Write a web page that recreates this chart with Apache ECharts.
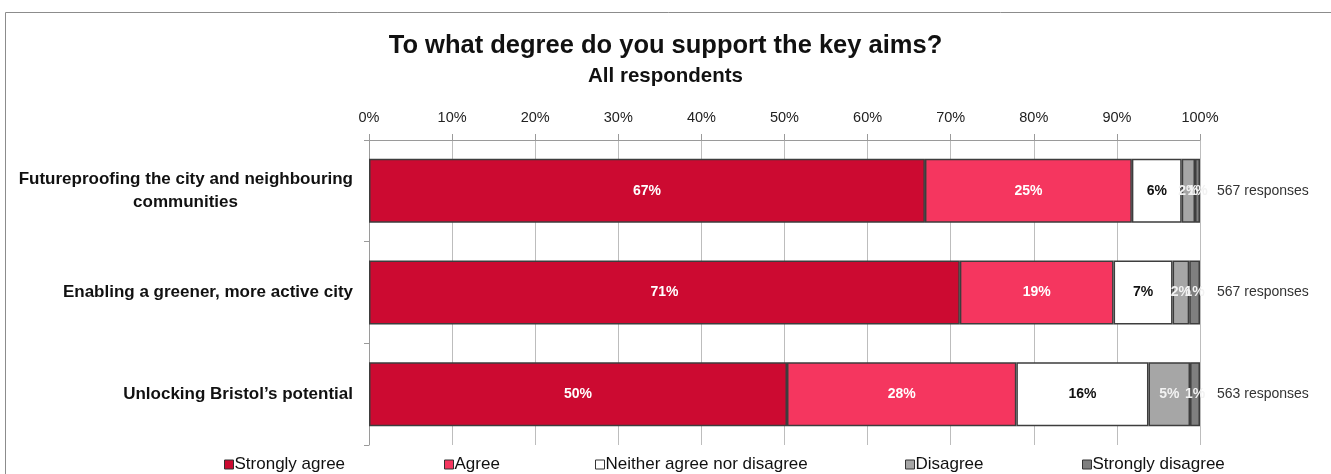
<!DOCTYPE html>
<html>
<head>
<meta charset="utf-8">
<script src="https://cdn.jsdelivr.net/npm/echarts@6/dist/echarts.min.js"></script>
<style>
  html, body { margin: 0; padding: 0; background: #fff; }
  #chart { width: 1331px; height: 474px; }
</style>
</head>
<body>
<div id="chart"></div>
<script>
// Survey statements (top to bottom)
const categories = [
  'Futureproofing the city and neighbouring\ncommunities',
  'Enabling a greener, more active city',
  'Unlocking Bristol\u2019s potential'
];
const responseCounts = ['567 responses', '567 responses', '563 responses'];

// Share of respondents per answer, percent of each row
const stronglyAgree = [66.9, 71.1, 50.3];
const agree         = [24.9, 18.5, 27.6];
const neither       = [6.0, 7.1, 15.9];
const disagree      = [1.6, 2.0, 5.0];
const stronglyDis   = [0.6, 1.3, 1.2];

const seriesNames = ['Strongly agree', 'Agree', 'Neither agree nor disagree', 'Disagree', 'Strongly disagree'];
const xTicks = { min: 0, max: 100, step: 10 };

const FONT = '"Liberation Sans", Arial, sans-serif';
const seriesValues = [stronglyAgree, agree, neither, disagree, stronglyDis];
const fills = ['#cc0a31', '#f5365f', '#ffffff', '#a6a6a6', '#7f7f7f'];
const labelColors = ['#ffffff', '#ffffff', '#111111', '#f2f2f2', '#f2f2f2'];

const CAT_SIZE = 17;
// width of the first line of the wrapped label, so the second line can be centred under it
const measure = document.createElement('canvas').getContext('2d');
measure.font = 'bold ' + CAT_SIZE + 'px ' + FONT;
const firstLineWidth = Math.ceil(measure.measureText(categories[0].split('\n')[0]).width);

const chart = echarts.init(document.getElementById('chart'), null, { renderer: 'canvas' });

const legendLeft = [224, 444, 595, 905, 1082];

chart.setOption({
  backgroundColor: '#ffffff',
  animation: false,
  title: {
    text: 'To what degree do you support the key aims?',
    subtext: 'All respondents',
    left: 'center',
    top: 28,
    itemGap: 7,
    textStyle: { fontFamily: FONT, fontSize: 25.5, fontWeight: 'bold', color: '#111' },
    subtextStyle: { fontFamily: FONT, fontSize: 20.5, fontWeight: 'bold', color: '#111' }
  },
  graphic: [{
    type: 'rect',
    shape: { x: 5.5, y: 12.5, width: 1400, height: 500 },
    style: { fill: null, stroke: '#8c8c8c', lineWidth: 1 },
    silent: true,
    z: -1
  }],
  legend: seriesNames.map((name, i) => ({
    data: [name],
    left: legendLeft[i],
    top: 456,
    itemWidth: 9,
    itemHeight: 9,
    itemGap: 0,
    icon: 'rect',
    padding: 0,
    textStyle: { fontFamily: FONT, fontSize: 17, color: '#111', padding: [0, 0, 0, -4] },
    itemStyle: { borderColor: '#333', borderWidth: 1 }
  })),
  grid: { left: 369, right: 131, top: 140, bottom: 29, containLabel: false },
  xAxis: {
    type: 'value',
    position: 'top',
    min: xTicks.min,
    max: xTicks.max,
    interval: xTicks.step,
    axisLine: { show: true, lineStyle: { color: '#9a9a9a', width: 1 } },
    axisTick: { show: true, length: 6, lineStyle: { color: '#9a9a9a' } },
    axisLabel: { formatter: '{value}%', margin: 15, fontFamily: FONT, fontSize: 14.5, color: '#222' },
    splitLine: { show: true, lineStyle: { color: '#bdbdbd', width: 1 } }
  },
  yAxis: [{
    type: 'category',
    data: categories,
    inverse: true,
    axisLine: { show: true, lineStyle: { color: '#9a9a9a', width: 1 } },
    axisTick: { show: true, length: 5, lineStyle: { color: '#9a9a9a' } },
    axisLabel: {
      margin: 16,
      fontFamily: FONT,
      fontSize: CAT_SIZE,
      fontWeight: 'bold',
      color: '#111',
      lineHeight: 23,
      formatter: (v) => {
        const lines = v.split('\n');
        if (lines.length < 2) return v;
        return '{l|' + lines[0] + '}\n{c|' + lines[1] + '}';
      },
      rich: {
        l: { fontFamily: FONT, fontSize: CAT_SIZE, fontWeight: 'bold', color: '#111', lineHeight: 23 },
        c: { fontFamily: FONT, fontSize: CAT_SIZE, fontWeight: 'bold', color: '#111', lineHeight: 23, width: firstLineWidth, align: 'center' }
      }
    },
    splitLine: { show: false }
  }, {
    type: 'category',
    data: responseCounts,
    inverse: true,
    position: 'right',
    axisLine: { show: false },
    axisTick: { show: false },
    axisLabel: { margin: 17, fontFamily: FONT, fontSize: 14, color: '#333' },
    splitLine: { show: false }
  }],
  series: seriesNames.map((name, i) => ({
    name: name,
    type: 'bar',
    stack: 'total',
    yAxisIndex: 0,
    barWidth: '63%',
    data: seriesValues[i],
    itemStyle: { color: fills[i], borderColor: '#3d3d3d', borderWidth: 1.5 },
    label: {
      show: true,
      position: 'inside',
      formatter: (p) => Math.round(p.value) + '%',
      fontFamily: FONT,
      fontSize: 14,
      fontWeight: 'bold',
      color: labelColors[i]
    },
    labelLayout: { hideOverlap: false }
  }))
});
</script>
</body>
</html>
